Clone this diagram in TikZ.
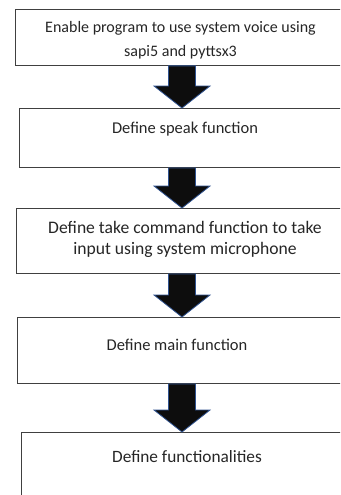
\documentclass[tikz,border=0pt]{standalone}
\usepackage{fontspec}
\setmainfont{Carlito}
\usetikzlibrary{positioning}
\definecolor{boxline}{HTML}{404040}
\definecolor{arrowline}{HTML}{2F528F}
\definecolor{txtgray}{HTML}{262626}
\tikzset{
  box/.style={draw=boxline, line width=0.9pt, rectangle, minimum width=334pt, inner sep=0pt},
  txt/.style={text=txtgray, align=center, font=\fontsize{16.5}{21}\selectfont},
  blockarrow/.style={fill=black!95, draw=arrowline, line width=0.8pt, line join=miter}
}
\newcommand{\flowarrow}[2]{%
  \draw[blockarrow] ([xshift=-13.5pt]#1.south) -- ([xshift=-13.5pt,yshift=22pt]#2.north)
    -- ([xshift=-28pt,yshift=22pt]#2.north) -- (#2.north)
    -- ([xshift=28pt,yshift=22pt]#2.north) -- ([xshift=13.5pt,yshift=22pt]#2.north)
    -- ([xshift=13.5pt]#1.south) -- cycle;}
\begin{document}
\begin{tikzpicture}[x=1pt,y=-1pt]
\useasboundingbox (0,0) rectangle (340,495);
\clip (0,0) rectangle (340,495);
\fill[white] (0,0) rectangle (340,495);
\node[box, minimum height=56pt, anchor=north] (b1) at (182,9) {};
\node[box, minimum width=326pt, minimum height=59pt, anchor=north] (b2) at (182,108) {};
\node[box, minimum width=332pt, minimum height=65pt, anchor=north] (b3) at (182,208) {};
\node[box, minimum width=330pt, minimum height=66pt, anchor=north] (b4) at (182,317) {};
\node[box, minimum width=322pt, minimum height=80pt, anchor=north] (b5) at (182,432) {};
\node[txt, font=\fontsize{16}{24}\selectfont] (t1) at (180.5,40) {Enable program to use system voice using\\sapi5 and pyttsx3};
\node[txt] (t2) at (185,129) {Define speak function};
\node[txt, font=\fontsize{17.6}{21}\selectfont] (t3) at (185,239) {Define take command function to take\\input using system microphone};
\node[txt] (t4) at (177,345) {Define main function};
\node[txt, font=\fontsize{17.3}{21}\selectfont] (t5) at (187,457) {Define functionalities};
\flowarrow{b1}{b2}
\flowarrow{b2}{b3}
\flowarrow{b3}{b4}
\flowarrow{b4}{b5}
\end{tikzpicture}
\end{document}
